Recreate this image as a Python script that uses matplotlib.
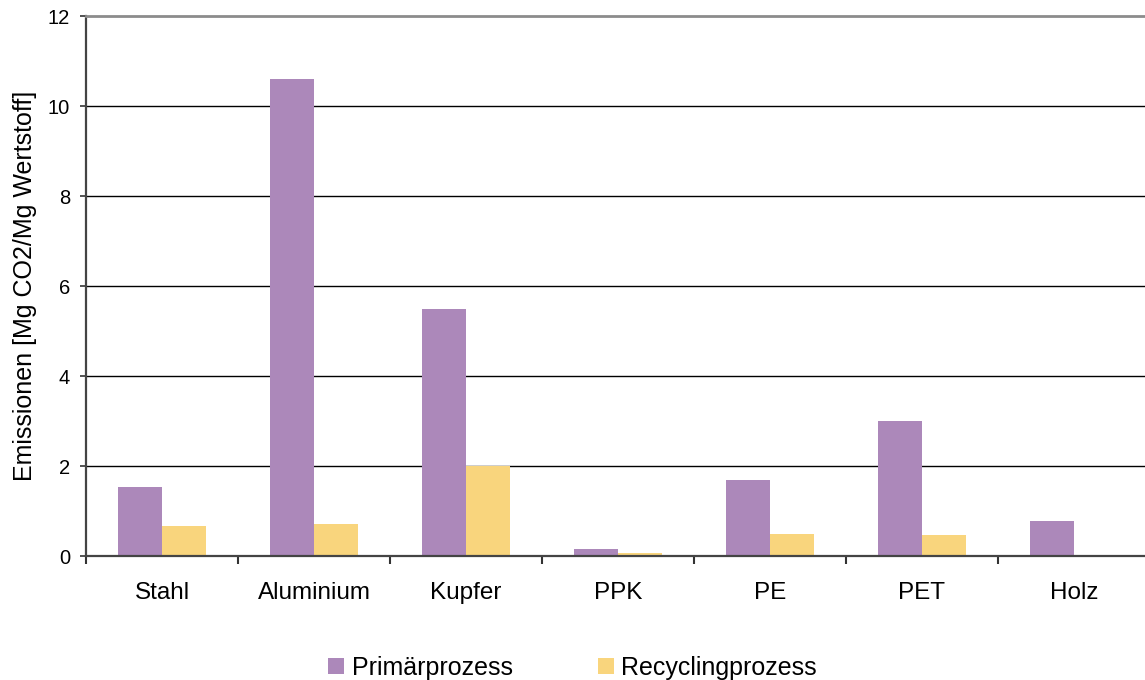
import matplotlib
matplotlib.use("Agg")
import matplotlib.pyplot as plt
import numpy as np

plt.rcParams['font.family'] = ['Liberation Sans', 'DejaVu Sans']

# Werkstoffe und CO2-Emissionen je Tonne Wertstoff
categories = ["Stahl", "Aluminium", "Kupfer", "PPK", "PE", "PET", "Holz"]
primaer = [1.53, 10.6, 5.5, 0.16, 1.69, 3.0, 0.78]
recycling = [0.67, 0.71, 2.0, 0.07, 0.49, 0.47, 0.0]
series_names = ["Primärprozess", "Recyclingprozess"]
y_ticks = [0, 2, 4, 6, 8, 10, 12]

col_primaer = "#AC88BA"
col_recycling = "#F9D57D"

fig = plt.figure(figsize=(11.45, 6.8), dpi=100)
ax = fig.add_axes([86 / 1145, 1 - 556 / 680, 1064 / 1145, 540 / 680])

x = np.arange(len(categories))
w = 0.29
ax.bar(x - w / 2, primaer, width=w, color=col_primaer, label=series_names[0], zorder=3)
ax.bar(x + w / 2, recycling, width=w, color=col_recycling, label=series_names[1], zorder=3)

ax.set_xlim(-0.5, len(categories) - 0.5)
ax.set_ylim(0, 12)
ax.set_yticks(y_ticks)
ax.set_yticklabels([str(v) for v in y_ticks], fontsize=14.5)

# category labels at centres, tick marks at category boundaries
ax.set_xticks(x)
ax.set_xticklabels(categories, fontsize=17.5)
ax.set_xticks(np.arange(-0.5, len(categories) + 0.5, 1), minor=True)
ax.tick_params(axis='x', which='major', length=0, pad=19)
ax.tick_params(axis='x', which='minor', length=6, width=1.5, color='#333333', direction='out')
ax.tick_params(axis='y', which='major', length=4.5, width=1.2, color='#333333', pad=7)

# horizontal gridlines
for v in y_ticks[1:-1]:
    ax.axhline(v, color='black', lw=1.0, zorder=1)

ax.spines['right'].set_visible(False)
ax.spines['top'].set_color('#8c8c8c')
ax.spines['top'].set_linewidth(2)
for s in ('left', 'bottom'):
    ax.spines[s].set_color('#444444')
    ax.spines[s].set_linewidth(1.6)
ax.spines['bottom'].set_zorder(4)

ax.set_ylabel("Emissionen [Mg CO2/Mg Wertstoff]", fontsize=18)
ax.yaxis.set_label_coords(-0.046, 0.5)

fig.legend(loc='center', bbox_to_anchor=(0.5, 12 / 680), ncol=2, frameon=False,
           fontsize=18, handlelength=0.64, handleheight=0.64, handletextpad=0.3,
           columnspacing=3.4, borderpad=0)

fig.savefig("out.png", dpi=100)
